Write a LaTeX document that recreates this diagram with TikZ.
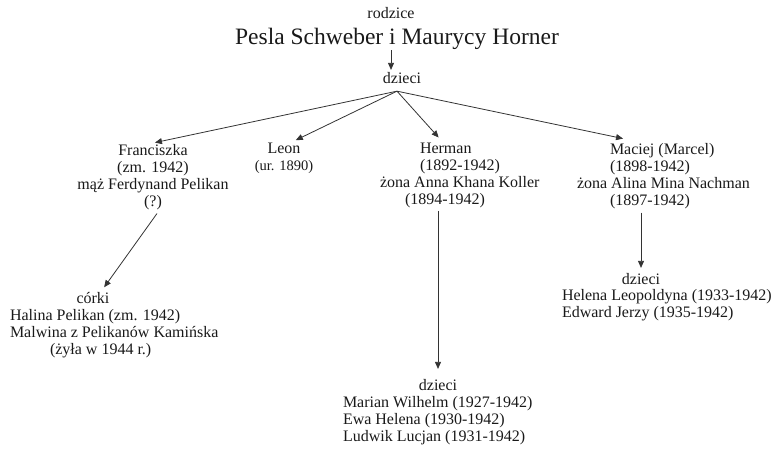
\documentclass[tikz,border=0pt]{standalone}
\usepackage{fontspec}
\setmainfont{Liberation Serif}
\usetikzlibrary{arrows.meta,positioning,calc}
\tikzset{
    line color/.style={black!80},
    arr/.style={-{Triangle[length=7pt,width=6pt]},line color,line width=0.8pt,shorten >=2pt},
    txt/.style={inner sep=0pt,outer sep=0pt,text=black!90},
    heading/.style={txt,anchor=base},
    person/.style={txt,align=center,anchor=north},
    person left/.style={txt,align=left,anchor=north west},
    kid list/.style={txt,align=left,anchor=north west},
}
\tikzstyle{every node}=[font=\fontsize{16}{17}\selectfont]

\begin{document}
\begin{tikzpicture}[x=1pt,y=-1pt]
    \useasboundingbox (0,0) rectangle (783,452);
    % parents
    \node[heading,font=\fontsize{16}{18}\selectfont] (rodzice) at (391,19) {rodzice};
    \node[heading,font=\fontsize{23.5}{26}\selectfont] (parents) at (397,45) {Pesla Schweber i Maurycy Horner};
    \node[heading] (kids) at (402,83) {dzieci};
    % children
    \node[person] (franciszka) at (153,144) {Franciszka\\(zm. 1942)\\mąż Ferdynand Pelikan\\(?)};
    \node[person] (leon) at (284,143) {Leon\\{\fontsize{14.5}{17}\selectfont (ur. 1890)}};
    \node[person left] (herman) at (380,143)
        {\hspace*{40pt}Herman\\\hspace*{40pt}(1892-1942)\\żona Anna Khana Koller\\\hspace*{25pt}(1894-1942)};
    \node[person left] (maciej) at (577,143)
        {\hspace*{33pt}Maciej (Marcel)\\\hspace*{33pt}(1898-1942)\\żona Alina Mina Nachman\\\hspace*{33pt}(1897-1942)};
    % grandchildren
    \node[heading] (corki) at (93,303) {córki};
    \node[kid list] (corki list) at (10,309)
        {Halina Pelikan (zm. 1942)\\Malwina z Pelikanów Kamińska\\\hspace*{40pt}(żyła w 1944 r.)};
    \node[heading] (mkids) at (641,284) {dzieci};
    \node[kid list] (mlist) at (562,289) {Helena Leopoldyna (1933-1942)\\Edward Jerzy (1935-1942)};
    \node[heading] (hkids) at (438,390) {dzieci};
    \node[kid list] (hlist) at (343,396) {Marian Wilhelm (1927-1942)\\Ewa Helena (1930-1942)\\Ludwik Lucjan (1931-1942)};

    \draw[arr] (parents.south -| rodzice.south) -- (kids.north -| rodzice.south);
    \coordinate (fan) at ([xshift=-5pt,yshift=-8pt]kids.south);
    \draw[arr] (fan) -- ([yshift=1pt]franciszka.north);
    \draw[arr] (fan) -- ([xshift=10pt,yshift=2pt]leon.north);
    \draw[arr] (fan) -- ([xshift=60pt,yshift=4pt]herman.north west);
    \draw[arr] (fan) -- ([xshift=48pt,yshift=4pt]maciej.north west);
    \draw[arr] ([xshift=4pt,yshift=-4pt]franciszka.south) -- ([xshift=10pt,yshift=3pt]corki.north);
    \draw[arr,shorten >=10pt] ($(herman.south -| hkids.north)+(0,3)$) -- (hkids.north);
    \draw[arr,shorten >=5pt] ($(maciej.south -| mkids.north)+(0,4)$) -- (mkids.north);
\end{tikzpicture}
\end{document}
